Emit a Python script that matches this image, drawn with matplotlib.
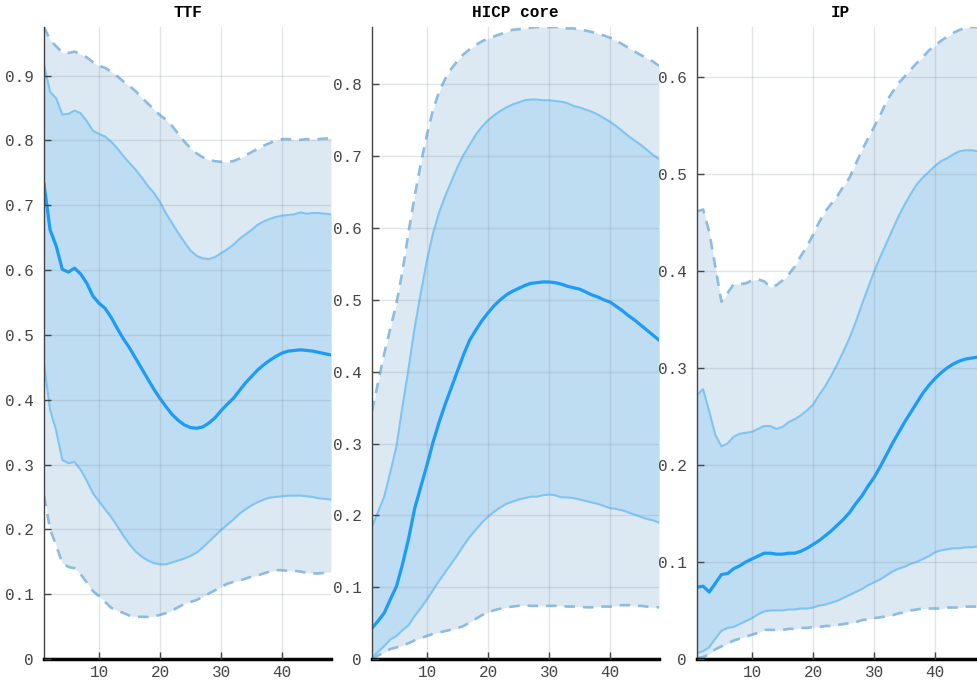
import matplotlib
matplotlib.use("Agg")
import matplotlib.pyplot as plt
from matplotlib.ticker import FuncFormatter, MultipleLocator

# horizon (months)
horizon = list(range(1, 49))

# TTF
ttf_lo90 = [0.252, 0.200, 0.175, 0.148, 0.142, 0.140, 0.131, 0.118, 0.105, 0.097,
            0.088, 0.079, 0.075, 0.071, 0.067, 0.065, 0.065, 0.065, 0.066, 0.068,
            0.071, 0.075, 0.080, 0.085, 0.088, 0.091, 0.096, 0.101, 0.106, 0.111,
            0.116, 0.119, 0.121, 0.124, 0.127, 0.129, 0.132, 0.135, 0.137, 0.137,
            0.136, 0.136, 0.135, 0.133, 0.132, 0.132, 0.133, 0.135]
ttf_lo68 = [0.456, 0.384, 0.352, 0.307, 0.302, 0.304, 0.292, 0.275, 0.256, 0.243,
            0.231, 0.219, 0.205, 0.190, 0.177, 0.166, 0.158, 0.152, 0.148, 0.146,
            0.146, 0.149, 0.152, 0.155, 0.159, 0.164, 0.172, 0.181, 0.190, 0.199,
            0.207, 0.215, 0.224, 0.231, 0.237, 0.242, 0.246, 0.249, 0.250, 0.251,
            0.252, 0.252, 0.252, 0.251, 0.250, 0.248, 0.247, 0.246]
ttf_med = [0.733, 0.662, 0.637, 0.601, 0.597, 0.603, 0.594, 0.580, 0.560, 0.549,
           0.541, 0.527, 0.510, 0.494, 0.480, 0.464, 0.448, 0.432, 0.416, 0.402,
           0.389, 0.377, 0.368, 0.361, 0.357, 0.356, 0.358, 0.364, 0.372, 0.383,
           0.393, 0.402, 0.414, 0.426, 0.436, 0.446, 0.454, 0.461, 0.467, 0.472,
           0.475, 0.476, 0.477, 0.476, 0.475, 0.473, 0.471, 0.469]
ttf_hi68 = [0.917, 0.875, 0.865, 0.840, 0.841, 0.846, 0.842, 0.830, 0.815, 0.810,
            0.806, 0.798, 0.788, 0.776, 0.765, 0.755, 0.743, 0.730, 0.719, 0.705,
            0.687, 0.672, 0.657, 0.643, 0.630, 0.622, 0.618, 0.617, 0.620, 0.626,
            0.632, 0.639, 0.648, 0.655, 0.662, 0.670, 0.675, 0.679, 0.682, 0.684,
            0.685, 0.686, 0.689, 0.687, 0.688, 0.688, 0.687, 0.686]
ttf_hi90 = [0.975, 0.955, 0.945, 0.936, 0.935, 0.937, 0.933, 0.928, 0.921, 0.915,
            0.912, 0.906, 0.899, 0.891, 0.884, 0.876, 0.866, 0.857, 0.848, 0.839,
            0.832, 0.822, 0.810, 0.798, 0.788, 0.780, 0.774, 0.770, 0.768, 0.767,
            0.767, 0.768, 0.772, 0.777, 0.782, 0.787, 0.792, 0.796, 0.800, 0.802,
            0.802, 0.801, 0.801, 0.802, 0.802, 0.802, 0.803, 0.803]

# HICP core
hicp_lo90 = [0.000, 0.005, 0.009, 0.014, 0.016, 0.019, 0.022, 0.026, 0.029, 0.032,
             0.035, 0.037, 0.039, 0.041, 0.043, 0.046, 0.051, 0.056, 0.061, 0.065,
             0.068, 0.070, 0.072, 0.073, 0.074, 0.075, 0.074, 0.074, 0.074, 0.074,
             0.074, 0.074, 0.073, 0.073, 0.073, 0.072, 0.072, 0.073, 0.073, 0.073,
             0.074, 0.075, 0.075, 0.074, 0.074, 0.073, 0.072, 0.072]
hicp_lo68 = [0.002, 0.010, 0.018, 0.027, 0.032, 0.040, 0.047, 0.060, 0.071, 0.083,
             0.096, 0.109, 0.121, 0.133, 0.145, 0.158, 0.170, 0.180, 0.190, 0.198,
             0.205, 0.211, 0.216, 0.219, 0.222, 0.224, 0.226, 0.226, 0.228, 0.229,
             0.228, 0.225, 0.225, 0.224, 0.222, 0.220, 0.218, 0.216, 0.213, 0.210,
             0.209, 0.207, 0.204, 0.201, 0.198, 0.195, 0.193, 0.190]
hicp_med = [0.043, 0.053, 0.064, 0.083, 0.101, 0.132, 0.168, 0.210, 0.240, 0.270,
            0.302, 0.330, 0.355, 0.378, 0.401, 0.424, 0.444, 0.458, 0.471, 0.482,
            0.492, 0.500, 0.507, 0.512, 0.516, 0.520, 0.523, 0.524, 0.525, 0.525,
            0.524, 0.522, 0.519, 0.517, 0.515, 0.511, 0.507, 0.504, 0.500, 0.497,
            0.491, 0.485, 0.478, 0.472, 0.465, 0.458, 0.451, 0.444]
hicp_hi68 = [0.184, 0.205, 0.226, 0.260, 0.296, 0.352, 0.405, 0.462, 0.510, 0.555,
             0.593, 0.622, 0.645, 0.665, 0.685, 0.702, 0.716, 0.730, 0.741, 0.750,
             0.757, 0.763, 0.768, 0.772, 0.775, 0.778, 0.779, 0.779, 0.778, 0.778,
             0.777, 0.776, 0.774, 0.770, 0.768, 0.765, 0.762, 0.758, 0.753, 0.748,
             0.742, 0.735, 0.728, 0.722, 0.716, 0.709, 0.702, 0.696]
hicp_hi90 = [0.345, 0.385, 0.425, 0.460, 0.495, 0.540, 0.595, 0.645, 0.690, 0.730,
             0.765, 0.790, 0.808, 0.822, 0.833, 0.842, 0.849, 0.855, 0.860, 0.864,
             0.867, 0.870, 0.873, 0.876, 0.877, 0.878, 0.879, 0.880, 0.880, 0.880,
             0.880, 0.879, 0.878, 0.878, 0.877, 0.875, 0.873, 0.871, 0.868, 0.865,
             0.861, 0.856, 0.851, 0.846, 0.841, 0.837, 0.832, 0.826]

# IP
ip_lo90 = [0.001, 0.002, 0.005, 0.010, 0.013, 0.016, 0.019, 0.021, 0.023, 0.025,
           0.027, 0.030, 0.030, 0.030, 0.030, 0.031, 0.031, 0.032, 0.032, 0.033,
           0.033, 0.034, 0.034, 0.035, 0.036, 0.037, 0.038, 0.040, 0.041, 0.042,
           0.043, 0.044, 0.045, 0.047, 0.048, 0.050, 0.051, 0.052, 0.052, 0.052,
           0.052, 0.053, 0.053, 0.053, 0.054, 0.054, 0.054, 0.054]
ip_lo68 = [0.006, 0.008, 0.012, 0.021, 0.029, 0.032, 0.033, 0.036, 0.039, 0.042,
           0.046, 0.049, 0.050, 0.050, 0.050, 0.051, 0.051, 0.052, 0.052, 0.053,
           0.055, 0.056, 0.058, 0.060, 0.063, 0.066, 0.069, 0.072, 0.076, 0.079,
           0.082, 0.086, 0.090, 0.093, 0.095, 0.098, 0.100, 0.103, 0.106, 0.110,
           0.112, 0.113, 0.114, 0.114, 0.115, 0.115, 0.116, 0.116]
ip_med = [0.074, 0.075, 0.069, 0.078, 0.087, 0.088, 0.093, 0.096, 0.100, 0.103,
          0.106, 0.109, 0.109, 0.108, 0.108, 0.109, 0.109, 0.111, 0.114, 0.118,
          0.122, 0.127, 0.132, 0.138, 0.144, 0.151, 0.160, 0.168, 0.178, 0.187,
          0.198, 0.210, 0.222, 0.233, 0.244, 0.254, 0.264, 0.274, 0.282, 0.289,
          0.295, 0.300, 0.304, 0.307, 0.309, 0.310, 0.311, 0.312]
ip_hi68 = [0.272, 0.278, 0.255, 0.231, 0.219, 0.222, 0.229, 0.232, 0.233, 0.234,
           0.237, 0.240, 0.240, 0.237, 0.239, 0.244, 0.247, 0.251, 0.256, 0.262,
           0.272, 0.281, 0.292, 0.304, 0.317, 0.331, 0.347, 0.365, 0.382, 0.399,
           0.414, 0.428, 0.442, 0.456, 0.468, 0.479, 0.489, 0.496, 0.502, 0.508,
           0.513, 0.516, 0.520, 0.523, 0.524, 0.524, 0.523, 0.522]
ip_hi90 = [0.461, 0.463, 0.440, 0.404, 0.368, 0.377, 0.386, 0.386, 0.387, 0.390,
           0.391, 0.389, 0.383, 0.385, 0.390, 0.396, 0.404, 0.415, 0.425, 0.437,
           0.450, 0.461, 0.469, 0.477, 0.487, 0.496, 0.510, 0.524, 0.536, 0.548,
           0.560, 0.574, 0.584, 0.593, 0.600, 0.607, 0.614, 0.620, 0.627, 0.632,
           0.637, 0.641, 0.645, 0.648, 0.650, 0.651, 0.651, 0.651]

titles = ["TTF", "HICP core", "IP"]
panels = [
    (ttf_lo90, ttf_lo68, ttf_med, ttf_hi68, ttf_hi90),
    (hicp_lo90, hicp_lo68, hicp_med, hicp_hi68, hicp_hi90),
    (ip_lo90, ip_lo68, ip_med, ip_hi68, ip_hi90),
]

MONO = ["Liberation Mono", "DejaVu Sans Mono"]
plt.rcParams["font.family"] = MONO

W, H = 977, 689
fig = plt.figure(figsize=(W / 100, H / 100), dpi=100)
lefts = [44, 372, 697]   # px, axes left edges (last panel runs off the canvas)

for left, title, (lo90, lo68, med, hi68, hi90) in zip(lefts, titles, panels):
    ax = fig.add_axes([left / W, 30 / H, 287 / W, 632 / H])
    ax.fill_between(horizon, lo90, hi90, color="#dce9f3", lw=0)
    ax.fill_between(horizon, lo68, hi68, color="#bedcf2", lw=0)
    ax.plot(horizon, hi90, color="#8cbde0", lw=1.9, ls=(0, (4, 3)))
    ax.plot(horizon, lo90, color="#8cbde0", lw=1.9, ls=(0, (4, 3)))
    ax.plot(horizon, hi68, color="#80c4f2", lw=1.5)
    ax.plot(horizon, lo68, color="#80c4f2", lw=1.5)
    ax.plot(horizon, med, color="#199cfa", lw=2.3)

    ax.set_xlim(1, 48)
    ax.set_ylim(0, max(hi90))
    ax.set_xticks([10, 20, 30, 40])
    ax.yaxis.set_major_locator(MultipleLocator(0.1))
    ax.yaxis.set_major_formatter(FuncFormatter(lambda v, p: "%g" % round(v, 2)))
    ax.grid(True, color="#7f8c99", alpha=0.22, lw=1)
    ax.set_axisbelow(False)
    for s in ("top", "right"):
        ax.spines[s].set_visible(False)
    ax.spines["left"].set_color("#444444")
    ax.spines["left"].set_linewidth(1)
    ax.spines["bottom"].set_color("black")
    ax.spines["bottom"].set_linewidth(2.5)
    ax.tick_params(direction="in", length=5, width=1, color="#444444",
                   labelsize=11.5, labelcolor="#444444")
    ax.tick_params(axis="y", pad=7.5)
    ax.tick_params(axis="x", pad=4)
    ax.set_title(title, fontsize=11.5, fontweight="bold", pad=7)

fig.savefig("out.png", dpi=100)
